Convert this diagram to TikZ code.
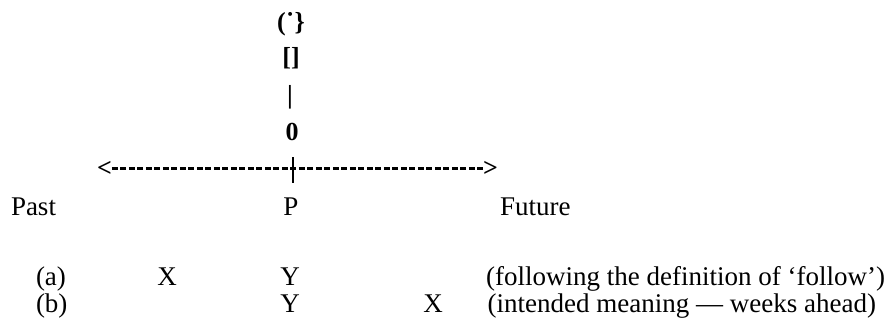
\documentclass[tikz,border=0pt]{standalone}
\usepackage{fontspec}
\setmainfont{Liberation Serif}
\begin{document}
\begin{tikzpicture}[x=1pt,y=-1pt,
  lbl/.style={inner sep=0pt, outer sep=0pt, font=\fontsize{27}{29}\selectfont},
  bld/.style={inner sep=0pt, outer sep=0pt, font=\fontsize{26}{28}\selectfont\bfseries},
  dashline/.style={line width=2.6pt, dash pattern=on 6pt off 2.5pt},
  tickline/.style={line width=2.2pt}]
\path[use as bounding box] (0,0) rectangle (887,329);
% top stack
\node[bld, anchor=base] (eye) at (291,31) {(˙\}};
\node[bld, anchor=base] (box) at (291,66) {[]};
\node[bld, anchor=base] (bar) at (290,103) {|};
\node[bld, anchor=base] (zero) at (292,140) {0};
% time line
\node[bld, anchor=base west] (lt) at (97,176) {<};
\node[bld, anchor=base east] (gt) at (498,176) {>};
\draw[dashline] (lt.east) -- (gt.west);
\coordinate (tickTop) at (293,157);
\coordinate (tickBot) at (293,183);
\draw[tickline] (tickTop) -- (tickBot);
% labels
\node[lbl, anchor=base west] (past) at (11,215) {Past};
\node[lbl, anchor=base] (p) at (291,215) {P};
\node[lbl, anchor=base west] (future) at (500,215) {Future};
% row (a)
\node[lbl, anchor=base west] (ra) at (36,285) {(a)};
\node[lbl, anchor=base] (xa) at (167,285) {X};
\node[lbl, anchor=base] (ya) at (290,285) {Y};
\node[lbl, anchor=base east] (ta) at (885,285) {(following the definition of ‘follow’)};
% row (b)
\node[lbl, anchor=base west] (rb) at (36,312) {(b)};
\node[lbl, anchor=base] (yb) at (290,312) {Y};
\node[lbl, anchor=base] (xb) at (433,312) {X};
\node[lbl, anchor=base east] (tb) at (876,312) {(intended meaning — weeks ahead)};
\end{tikzpicture}
\end{document}
